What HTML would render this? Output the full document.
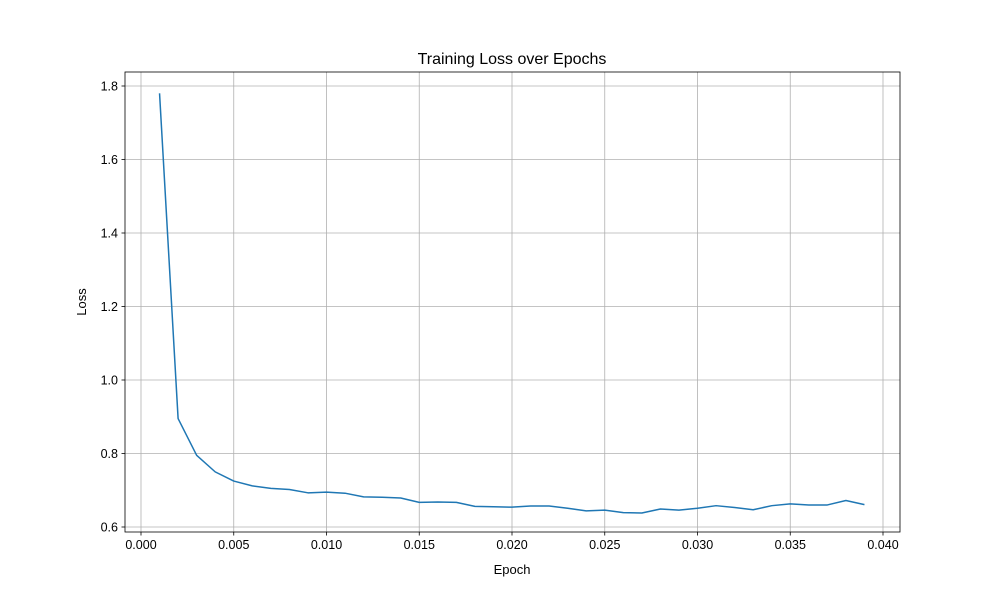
<!DOCTYPE html>
<html><head><meta charset="utf-8"><style>body{margin:0;background:#fff}svg{display:block;font-family:"Liberation Sans","DejaVu Sans",sans-serif}</style></head>
<body>
<svg id="chart" width="1000" height="600" viewBox="0 0 1000 600"></svg>
<script>
const epochs = [];
for (let i = 1; i <= 39; i++) epochs.push(i / 1000);
const lossValues = [1.78,0.895,0.795,0.75,0.725,0.712,0.705,0.702,0.693,0.695,0.692,0.682,0.681,0.679,0.667,0.668,0.667,0.656,0.655,0.654,0.657,0.657,0.651,0.644,0.646,0.639,0.638,0.649,0.646,0.651,0.658,0.653,0.647,0.658,0.663,0.66,0.66,0.672,0.661];
const xTicks = [0,0.005,0.01,0.015,0.02,0.025,0.03,0.035,0.04];
const xTickLabels = ["0.000","0.005","0.010","0.015","0.020","0.025","0.030","0.035","0.040"];
const yTicks = [0.6,0.8,1.0,1.2,1.4,1.6,1.8];
const yTickLabels = ["0.6","0.8","1.0","1.2","1.4","1.6","1.8"];

const L=125,R=900,T=72,B=532;
const X=v=>141+(v-0)*(883-141)/0.04;
const Y=v=>527-(v-0.6)*(527-86)/1.2;
const svg=document.getElementById('chart');
const NS='http://www.w3.org/2000/svg';
function mk(tag,attrs,parent){const e=document.createElementNS(NS,tag);for(const k in attrs)e.setAttribute(k,attrs[k]);(parent||svg).appendChild(e);return e;}
const grid=mk('g',{});


xTicks.forEach((t,i)=>{
  const x=X(t);
  mk('line',{x1:x,x2:x,y1:T,y2:B,stroke:'#b0b0b0','stroke-width':0.8},grid);
  mk('line',{x1:x,x2:x,y1:B,y2:B+3.5,stroke:'#000','stroke-width':0.8});
  const tx=mk('text',{x:x,y:B+17,'font-size':12.5,'text-anchor':'middle'});
  
  
  tx.textContent=xTickLabels[i];
});
yTicks.forEach((t,i)=>{
  const y=Y(t);
  mk('line',{x1:L,x2:R,y1:y,y2:y,stroke:'#b0b0b0','stroke-width':0.8},grid);
  mk('line',{x1:L-3.5,x2:L,y1:y,y2:y,stroke:'#000','stroke-width':0.8});
  const tx=mk('text',{x:L-7,y:y+4.5,'font-size':12.5,'text-anchor':'end'});
  
  
  tx.textContent=yTickLabels[i];
});
const line=mk('polyline',{points:epochs.map((e,i)=>X(e)+','+Y(lossValues[i])).join(' '),fill:'none',stroke:'#1f77b4','stroke-width':1.5,'stroke-linejoin':'round'});


const frame=mk('rect',{x:L,y:T,width:R-L,height:B-T,fill:'none',stroke:'#000','stroke-width':0.8});


const title=mk('text',{x:512,y:64,'font-size':16,'text-anchor':'middle'});


title.textContent='Training Loss over Epochs';
const xl=mk('text',{x:512,y:574,'font-size':13,'text-anchor':'middle'});


xl.textContent='Epoch';
const yl=mk('text',{x:86,y:302,'font-size':13,'text-anchor':'middle',transform:'rotate(-90 86 302)'});


yl.textContent='Loss';
</script>
</body></html>
